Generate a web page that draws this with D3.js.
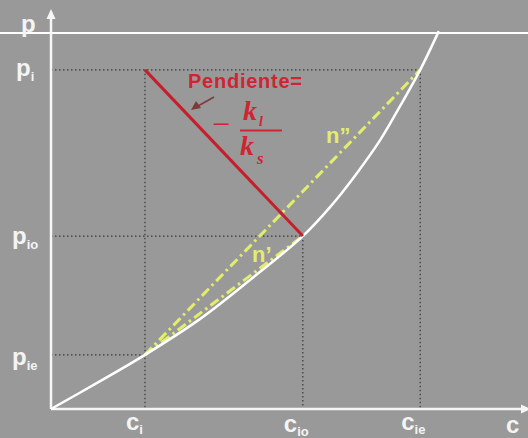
<!DOCTYPE html>
<html>
<head>
<meta charset="utf-8">
<script src="https://cdn.jsdelivr.net/npm/d3@7"></script>
<style>
  html, body { margin: 0; padding: 0; background: #999999; }
  svg { display: block; }
  .lbl { font-family: "Liberation Sans", Arial, sans-serif; font-weight: bold; fill: #f4f4f4; }
</style>
</head>
<body>
<svg id="chart" width="528" height="438"></svg>
<script>
// Equilibrium curve p = f(c)
const curveC = [0, 1.03, 1.97, 3.12, 4.17, 5.28, 5.85, 6.37, 6.90, 7.32, 7.74, 8.13];
const curveP = [0, 0.74, 1.44, 2.39, 3.43, 4.60, 5.37, 6.20, 7.15, 8.06, 9.02, 10.05];

// Marked concentrations and partial pressures
const cMarks = [1.97, 5.28, 7.74];          // c_i, c_io, c_ie
const cSubs  = ["i", "io", "ie"];
const pMarks = [9.02, 4.60, 1.44];          // p_i, p_io, p_ie
const pSubs  = ["i", "io", "ie"];

const W = 528, H = 438;
const svg = d3.select("#chart");
const x = d3.scaleLinear().domain([0, 10]).range([51, 528]);
const y = d3.scaleLinear().domain([0, 10]).range([409, 33]);

const [ci, cio, cie] = cMarks;
const [pi, pio, pie] = pMarks;

// top reference line
svg.append("line").attr("x1", 0).attr("x2", W).attr("y1", y(10)).attr("y2", y(10))
  .attr("stroke", "#ffffff").attr("stroke-width", 2);

// dotted guides
const guide = "#2a2a2a";
const guides = [
  [[0, pi], [cie, pi]],
  [[0, pio], [cio, pio]],
  [[0, pie], [ci, pie]],
  [[ci, pi], [ci, 0]],
  [[cio, pio], [cio, 0]],
  [[cie, pi], [cie, 0]]
];
svg.append("g").selectAll("line").data(guides).join("line")
  .attr("x1", d => x(d[0][0])).attr("y1", d => y(d[0][1]))
  .attr("x2", d => x(d[1][0])).attr("y2", d => y(d[1][1]))
  .attr("stroke", guide).attr("stroke-width", 1.2).attr("stroke-dasharray", "1.5,2.5").attr("opacity", 0.85);

// axes with arrowheads
const axisColor = "#f6f6f6";
svg.append("line").attr("x1", x(0)).attr("y1", y(0)).attr("x2", x(0)).attr("y2", 16)
  .attr("stroke", axisColor).attr("stroke-width", 2.5);
svg.append("path").attr("d", `M${x(0)},9 L${x(0) - 4.5},19 L${x(0) + 4.5},19 Z`).attr("fill", axisColor);
svg.append("line").attr("x1", x(0)).attr("y1", y(0)).attr("x2", 524).attr("y2", y(0))
  .attr("stroke", axisColor).attr("stroke-width", 2.5);
svg.append("path").attr("d", `M${W + 3},${y(0)} L${W - 7},${y(0) - 4.5} L${W - 7},${y(0) + 4.5} Z`).attr("fill", axisColor);

// operating lines n' and n''
const yellow = "#e2ed6c";
const dashDot = "10,4,2.5,4";
const opLines = [
  [[ci, pie], [cio, pio]],
  [[ci, pie], [cie, pi]]
];
svg.append("g").selectAll("line").data(opLines).join("line")
  .attr("x1", d => x(d[0][0])).attr("y1", d => y(d[0][1]))
  .attr("x2", d => x(d[1][0])).attr("y2", d => y(d[1][1]))
  .attr("stroke", yellow).attr("stroke-width", 3).attr("stroke-dasharray", dashDot);

// equilibrium curve
const pts = curveC.map((c, i) => [c, curveP[i]]);
svg.append("path").datum(pts)
  .attr("d", d3.line().x(d => x(d[0])).y(d => y(d[1])).curve(d3.curveCatmullRom))
  .attr("fill", "none").attr("stroke", "#ffffff").attr("stroke-width", 2.5);

// slope line
const red = "#c61f2b";
svg.append("line").attr("x1", x(ci)).attr("y1", y(pi)).attr("x2", x(cio)).attr("y2", y(pio))
  .attr("stroke", red).attr("stroke-width", 3);

// axis labels
svg.append("text").attr("class", "lbl").attr("x", 21).attr("y", 32).attr("font-size", 24).text("p");
svg.append("text").attr("class", "lbl").attr("x", 506).attr("y", 433).attr("font-size", 24).text("c");

// p tick labels
const pDy = [6, 8, 10];
pMarks.forEach((p, i) => {
  const t = svg.append("text").attr("class", "lbl").attr("x", i === 0 ? 16 : 12)
    .attr("y", y(p) + pDy[i]).attr("font-size", 24);
  t.append("tspan").text("p");
  t.append("tspan").attr("font-size", 13).attr("dy", 5).text(pSubs[i]);
});

// c tick labels
const cBase = [430, 432, 430];
cMarks.forEach((c, i) => {
  const t = svg.append("text").attr("class", "lbl").attr("x", x(c) - 19)
    .attr("y", cBase[i]).attr("font-size", 24);
  t.append("tspan").text("c");
  t.append("tspan").attr("font-size", 13).attr("dy", 4).text(cSubs[i]);
});

// slope annotation
const redText = "#cf2432";
svg.append("text").attr("x", 188).attr("y", 88)
  .attr("font-family", "Liberation Sans, Arial, sans-serif").attr("font-weight", "bold")
  .attr("font-size", 20).attr("fill", redText)
  .attr("textLength", 114).attr("lengthAdjust", "spacing").text("Pendiente=");

svg.append("line").attr("x1", 214).attr("y1", 97).attr("x2", 198).attr("y2", 106)
  .attr("stroke", "#7d3a3a").attr("stroke-width", 1.5);
svg.append("path").attr("d", "M191,110 L196,101 L201,108 Z").attr("fill", "#7d3a3a");

const serif = "Liberation Serif, Times New Roman, serif";
svg.append("text").attr("x", 212).attr("y", 135).attr("font-family", serif)
  .attr("font-size", 32).attr("fill", redText).text("−");
const num = svg.append("text").attr("x", 243).attr("y", 120).attr("font-family", serif)
  .attr("font-style", "italic").attr("font-weight", "bold").attr("font-size", 28).attr("fill", redText);
num.append("tspan").text("k");
num.append("tspan").attr("font-size", 14).attr("dy", 6).attr("dx", 2).text("l");
svg.append("line").attr("x1", 240).attr("x2", 282).attr("y1", 130.5).attr("y2", 130.5)
  .attr("stroke", redText).attr("stroke-width", 2);
const den = svg.append("text").attr("x", 240).attr("y", 155).attr("font-family", serif)
  .attr("font-style", "italic").attr("font-weight", "bold").attr("font-size", 28).attr("fill", redText);
den.append("tspan").text("k");
den.append("tspan").attr("font-size", 17).attr("dy", 9).attr("dx", 3).text("s");

// operating line labels
svg.append("text").attr("x", 252).attr("y", 262)
  .attr("font-family", "Liberation Sans, Arial, sans-serif").attr("font-weight", "bold")
  .attr("font-size", 22).attr("fill", yellow).text("n’");
svg.append("text").attr("x", 326).attr("y", 143)
  .attr("font-family", "Liberation Sans, Arial, sans-serif").attr("font-weight", "bold")
  .attr("font-size", 22).attr("fill", yellow).text("n”");
</script>
</body>
</html>
